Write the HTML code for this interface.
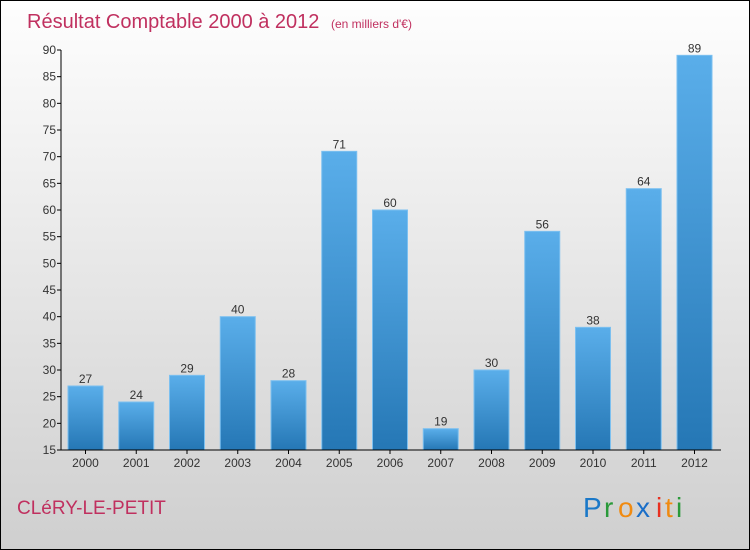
<!DOCTYPE html>
<html><head><meta charset="utf-8"><style>
body{margin:0}
#c{width:750px;height:550px;position:relative;box-sizing:border-box;border:1px solid #000;background:linear-gradient(#fefefe,#cfcfcf);font-family:"Liberation Sans",sans-serif;overflow:hidden}
</style></head><body>
<div id="c">
<svg width="748" height="548" style="position:absolute;left:0;top:0" id="s">
<defs><linearGradient id="g" x1="0" y1="0" x2="0" y2="1"><stop offset="0" stop-color="#5aaeea"/><stop offset="1" stop-color="#2577b5"/></linearGradient></defs>
<text x="26" y="27" font-size="20" fill="#c0305f">Résultat Comptable 2000 à 2012 <tspan font-size="12" dx="6">(en milliers d'€)</tspan></text>
<text x="16" y="513" font-size="19" fill="#c0305f">CLéRY-LE-PETIT</text>
<g font-size="28" font-family="'Liberation Sans',sans-serif">
<text x="582" y="516" fill="#1a78c8">P</text><text x="603" y="516" fill="#2a9a3a">r</text><text x="617" y="516" fill="#f08a10">o</text><text x="635" y="516" fill="#1a6ec8">x</text><text x="655" y="516" fill="#e83020">i</text><text x="664" y="516" fill="#f08a10">t</text><text x="675" y="516" fill="#2a9a3a">i</text></g>
</svg>
</div>
<script>
const years=["2000","2001","2002","2003","2004","2005","2006","2007","2008","2009","2010","2011","2012"];
const values=[27,24,29,40,28,71,60,19,30,56,38,64,89];
const ticks=[15,20,25,30,35,40,45,50,55,60,65,70,75,80,85,90];
const s=document.getElementById('s');const NS="http://www.w3.org/2000/svg";
const y=v=>449-(v-15)*400/75;const x=i=>84.5+i*50.75;
function mk(t,a,p){const e=document.createElementNS(NS,t);for(const k in a)e.setAttribute(k,a[k]);(p||s).appendChild(e);return e;}
ticks.forEach(t=>{const l=mk('line',{x1:56,x2:60,y1:y(t),y2:y(t),stroke:'#000'});


const tx=mk('text',{x:55,y:y(t)+4,'font-size':12,'text-anchor':'end',fill:'#333'});tx.textContent=t;

});
years.forEach((yr,i)=>{const v=values[i];
const r=mk('rect',{x:x(i)-17.5,y:y(v),width:35,height:449-y(v),fill:'url(#g)',stroke:'#7cc0f0','stroke-width':1});


const t=mk('text',{x:x(i),y:y(v)-3,'font-size':12,'text-anchor':'middle',fill:'#333'});t.textContent=v;


const tk=mk('line',{x1:x(i),x2:x(i),y1:449,y2:453,stroke:'#000'});


const xl=mk('text',{x:x(i),y:466,'font-size':12,'text-anchor':'middle',fill:'#333'});xl.textContent=yr;

});
const ax=mk('path',{d:'M60 49V449H720',stroke:'#000',fill:'none'});


</script>
</body></html>
